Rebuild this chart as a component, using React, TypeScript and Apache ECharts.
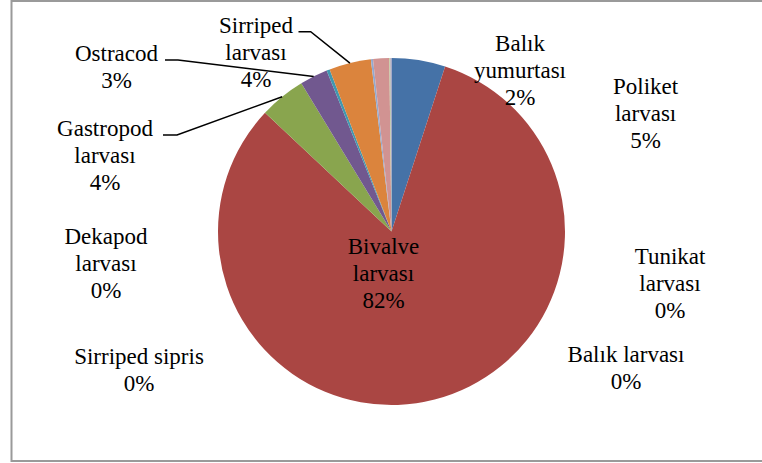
import React, { useEffect, useRef } from "react";
import * as echarts from "echarts";

const categories = [
  "Poliket\nlarvası",
  "Bivalve\nlarvası",
  "Gastropod\nlarvası",
  "Ostracod",
  "Dekapod\nlarvası",
  "Sirriped\nlarvası",
  "Sirriped sipris",
  "Balık\nyumurtası",
  "Balık larvası",
  "Tunikat\nlarvası",
];
const values = [5.0, 82.0, 4.3, 2.6, 0.3, 3.9, 0.2, 1.5, 0.1, 0.1];
const colors = [
  "#4572A7",
  "#AA4643",
  "#89A54E",
  "#71588F",
  "#4198AF",
  "#DB843D",
  "#93A9CF",
  "#D19392",
  "#B9CD96",
  "#A99BBD",
];

// Layout (label block centres) — not data
const LABEL_POS: [number, number][] = [
  [645.6, 113.5],
  [383.5, 273.5],
  [105, 155.5],
  [116.5, 66.5],
  [106, 263],
  [256, 52.5],
  [139, 369.5],
  [520, 70],
  [626, 367.5],
  [670, 283],
];
// leader lines: [elbowX, elbowY, endX]
const LEADERS: Record<number, [number, number, number]> = {
  2: [177, 135, 163],
  3: [178, 60, 165],
  5: [310.7, 31.7, 298.5],
};

const CX = 391.5;
const CY = 231.5;
const R = 173.5;
const FONT = "Liberation Serif";
const LINE_H = 27;

export default function App() {
  const ref = useRef<HTMLDivElement>(null);
  useEffect(() => {
    document.body.style.margin = "0";
    if (!ref.current) return;
    const chart = echarts.init(ref.current, undefined, { renderer: "svg" });
    const total = values.reduce((a, b) => a + b, 0);
    const cum: number[] = [];
    let acc = 0;
    values.forEach((v) => {
      cum.push(acc);
      acc += v;
    });
    const rimPoint = (i: number) => {
      const theta = ((cum[i] + values[i] / 2) / total) * Math.PI * 2;
      return [CX + R * Math.sin(theta), CY - R * Math.cos(theta)];
    };

    const graphics: any[] = [
      {
        type: "rect",
        shape: { x: 11.5, y: 1, width: 760, height: 460 },
        style: { fill: "none", stroke: "#9a9a9a", lineWidth: 2 },
        silent: true,
        z: 1,
      },
    ];
    categories.forEach((name, i) => {
      const lines = [...name.split("\n"), `${Math.round((values[i] / total) * 100)}%`];
      const [x, yc] = LABEL_POS[i];
      lines.forEach((line, k) => {
        graphics.push({
          type: "text",
          x,
          y: yc + (k - (lines.length - 1) / 2) * LINE_H,
          z: 100,
          silent: true,
          style: {
            text: line,
            fontFamily: FONT,
            fontSize: 23,
            fill: "#000",
            align: "center",
            verticalAlign: "middle",
          },
        });
      });
      const L = LEADERS[i];
      if (L) {
        graphics.push({
          type: "polyline",
          z: 90,
          silent: true,
          shape: { points: [rimPoint(i), [L[0], L[1]], [L[2], L[1]]] },
          style: { stroke: "#000", lineWidth: 1.5, fill: "none" },
        });
      }
    });

    chart.setOption({
      animation: false,
      backgroundColor: "#ffffff",
      graphic: graphics,
      series: [
        {
          type: "pie",
          center: [CX, CY],
          radius: R,
          startAngle: 90,
          clockwise: true,
          itemStyle: { borderWidth: 0 },
          label: { show: false },
          labelLine: { show: false },
          data: categories.map((name, i) => ({
            name: name.replace("\n", " "),
            value: values[i],
            itemStyle: { color: colors[i] },
          })),
        },
      ],
    });
    return () => chart.dispose();
  }, []);
  return <div ref={ref} style={{ width: 762, height: 463 }} />;
}
